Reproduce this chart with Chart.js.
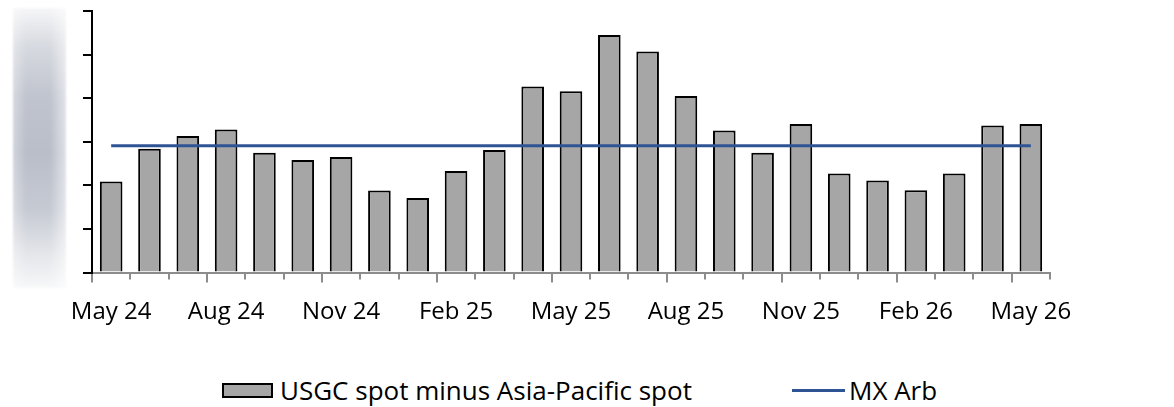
<!DOCTYPE html>
<html>
<head>
<meta charset="utf-8">
<script src="https://cdn.jsdelivr.net/npm/chart.js@4/dist/chart.umd.min.js"></script>
<style>
    body { margin: 0; background: #fff; font-family: 'Open Sans', sans-serif; }
    #wrap { position: relative; width: 1174px; height: 407px; overflow: hidden; }
    #side {
        position: absolute; left: 13px; top: 8px; width: 53px; height: 280px;
        background:
            linear-gradient(to right, rgba(255,255,255,0.35), rgba(255,255,255,0) 25%, rgba(255,255,255,0) 70%, rgba(255,255,255,0.55)),
            linear-gradient(to bottom, #f6f6f8 0%, #d6d9df 14%, #c0c4ce 32%, #b9bec9 52%, #c6cad3 72%, #e4e6ea 88%, #f8f8f9 100%);
        filter: blur(1px);
    }
    #box { position: absolute; left: 0; top: 0; width: 1174px; height: 345px; }
    .legend { position: absolute; top: 373px; height: 34px; display: flex; align-items: center; font-size: 26px; color: #000; }
    .swatch-bar { width: 47px; height: 11px; background: #a6a6a6; border: 2px solid #000; margin-right: 7px; }
    .swatch-line { width: 53px; height: 3px; background: #2f5496; margin-right: 4px; }
</style>
</head>
<body>
<div id="wrap">
    <div id="side"></div>
    <div id="box"><canvas id="chart"></canvas></div>
    <div class="legend" style="left:222px"><span class="swatch-bar"></span>USGC spot minus Asia-Pacific spot</div>
    <div class="legend" style="left:792px"><span class="swatch-line"></span>MX Arb</div>
</div>
<script>
const months = ['May 24', 'Jun 24', 'Jul 24', 'Aug 24', 'Sep 24', 'Oct 24', 'Nov 24', 'Dec 24', 'Jan 25',
    'Feb 25', 'Mar 25', 'Apr 25', 'May 25', 'Jun 25', 'Jul 25', 'Aug 25', 'Sep 25', 'Oct 25', 'Nov 25',
    'Dec 25', 'Jan 26', 'Feb 26', 'Mar 26', 'Apr 26', 'May 26'];
const spread = [2.09, 2.84, 3.13, 3.28, 2.75, 2.58, 2.65, 1.88, 1.71, 2.33, 2.81, 4.27, 4.16,
    5.45, 5.07, 4.05, 3.26, 2.75, 3.41, 2.27, 2.11, 1.89, 2.27, 3.37, 3.41];
const mxArb = [2.91, 2.91, 2.91, 2.91, 2.91, 2.91, 2.91, 2.91, 2.91, 2.91, 2.91, 2.91, 2.91,
    2.91, 2.91, 2.91, 2.91, 2.91, 2.91, 2.91, 2.91, 2.91, 2.91, 2.91, 2.91];
const yTicks = [0, 1, 2, 3, 4, 5, 6];

const H = 345;
const PLOT_BOTTOM = 272.5;

// quarter marks on the x axis are a little longer than the monthly ones
const quarterTicks = {
    id: 'quarterTicks',
    afterDraw(chart) {
        const x = chart.scales.x;
        const half = (x.getPixelForValue(1) - x.getPixelForValue(0)) / 2;
        const ctx = chart.ctx;
        ctx.save();
        ctx.strokeStyle = '#8c8c8c';
        ctx.lineWidth = 2;
        for (let i = 0; i < months.length; i += 3) {
            const px = Math.round(x.getPixelForValue(i) - half);
            ctx.beginPath();
            ctx.moveTo(px, x.top + 6);
            ctx.lineTo(px, x.top + 10);
            ctx.stroke();
        }
        ctx.restore();
    }
};

new Chart(document.getElementById('chart'), {
    type: 'bar',
    data: {
        labels: months,
        datasets: [{
            type: 'line',
            label: 'MX Arb',
            data: mxArb,
            borderColor: '#2f5496',
            borderWidth: 3,
            pointRadius: 0,
            fill: false,
            order: 0
        }, {
            label: 'USGC spot minus Asia-Pacific spot',
            data: spread,
            backgroundColor: '#a6a6a6',
            borderColor: '#000',
            borderWidth: 2,
            borderSkipped: 'bottom',
            barPercentage: 0.59,
            categoryPercentage: 1,
            order: 1
        }]
    },
    options: {
        responsive: true,
        maintainAspectRatio: false,
        animation: false,
        layout: { padding: { left: 0, top: 11, right: 124, bottom: 0 } },
        plugins: {
            legend: { display: false },
            tooltip: { enabled: false }
        },
        scales: {
            x: {
                grid: {
                    display: true,
                    drawOnChartArea: false,
                    offset: true,
                    tickLength: 7,
                    tickColor: '#8c8c8c',
                    lineWidth: 2
                },
                border: { color: '#8c8c8c', width: 2 },
                ticks: {
                    autoSkip: false,
                    maxRotation: 0,
                    padding: 18,
                    color: '#000',
                    font: { family: 'Open Sans', size: 24 },
                    callback: (v, i) => (i % 3 === 0 ? months[i] : '')
                },
                afterFit: (s) => { s.height = H - PLOT_BOTTOM; }
            },
            y: {
                min: yTicks[0],
                max: yTicks[yTicks.length - 1],
                afterBuildTicks: (s) => { s.ticks = yTicks.map(v => ({ value: v })); },
                grid: {
                    drawOnChartArea: false,
                    tickLength: 9,
                    tickColor: '#000',
                    lineWidth: 2
                },
                border: { color: '#000', width: 2 },
                ticks: { display: false },
                afterFit: (s) => { s.width = 92; }
            }
        }
    },
    plugins: [quarterTicks]
});
</script>
</body>
</html>
